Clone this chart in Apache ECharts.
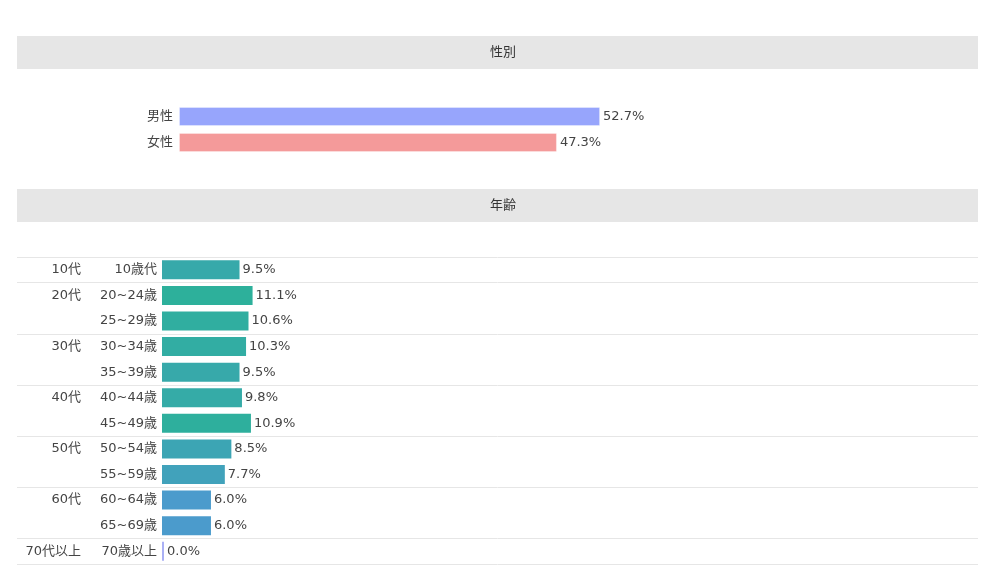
<!DOCTYPE html>
<html>
<head>
<meta charset="utf-8">
<script src="https://cdn.jsdelivr.net/npm/echarts@6/dist/echarts.min.js"></script>
<style>
  html, body { margin: 0; padding: 0; background: #fff; }
  #chart { width: 996px; height: 576px; }
</style>
</head>
<body>
<div id="chart"></div>
<script>
const genderNames = ['男性', '女性']
const genderValues = [52.7, 47.3]

const ageNames = ['10歳代', '20~24歳', '25~29歳', '30~34歳', '35~39歳', '40~44歳',
    '45~49歳', '50~54歳', '55~59歳', '60~64歳', '65~69歳', '70歳以上']
const ageGroups = ['10代', '20代', '', '30代', '', '40代', '', '50代', '', '60代', '', '70代以上']
const ageValues = [9.5, 11.1, 10.6, 10.3, 9.5, 9.8, 10.9, 8.5, 7.7, 6.0, 6.0, 0.0]

const genderColors = ['#97a5fc', '#f49a9a']
const font = "'DejaVu Sans', 'Noto Sans CJK JP', sans-serif"
const textColor = '#444'

// group starts (where a separator line is drawn)
const groupStarts = ageGroups.map((g, i) => g !== '' ? i : -1).filter(i => i >= 0)

const myChart = echarts.init(document.getElementById('chart'))

const option = {
    animation: false,
    textStyle: { fontFamily: font },
    title: [
        { text: '性別', left: 498, top: 41, textAlign: 'center',
          textStyle: { fontSize: 13, fontWeight: 'normal', color: '#333', fontFamily: font } },
        { text: '年齢', left: 498, top: 194, textAlign: 'center',
          textStyle: { fontSize: 13, fontWeight: 'normal', color: '#333', fontFamily: font } }
    ],
    graphic: [
        { type: 'rect', z: -1, shape: { x: 17, y: 36, width: 961, height: 33 }, style: { fill: '#e6e6e6' } },
        { type: 'rect', z: -1, shape: { x: 17, y: 189, width: 961, height: 33 }, style: { fill: '#e6e6e6' } }
    ],
    visualMap: {
        show: false,
        type: 'continuous',
        seriesIndex: 1,
        dimension: 0,
        min: 0,
        max: 11.1,
        inRange: { color: ['#aab0f5', '#4e99d0', '#2db09b'] }
    },
    grid: [
        { left: 179, right: 18, top: 103.5, height: 52, containLabel: false },
        { left: 162, right: 18, top: 257, height: 307, containLabel: false },
        { left: 17, right: 18, top: 257, height: 307, containLabel: false }
    ],
    xAxis: [
        { gridIndex: 0, type: 'value', min: 0, max: 100, show: false },
        { gridIndex: 1, type: 'value', min: 0, max: 100, show: false },
        { gridIndex: 2, type: 'value', min: 0, max: 100, show: false }
    ],
    yAxis: [
        {
            gridIndex: 0, type: 'category', data: genderNames, inverse: true,
            axisLine: { show: false }, axisTick: { show: false }, splitLine: { show: false },
            axisLabel: { margin: 6, fontSize: 13, color: textColor, fontFamily: font }
        },
        {
            gridIndex: 1, type: 'category', data: ageNames, inverse: true,
            axisLine: { show: false }, axisTick: { show: false }, splitLine: { show: false },
            axisLabel: { margin: 5, fontSize: 13, color: textColor, fontFamily: font }
        },
        {
            gridIndex: 1, type: 'category', data: ageGroups, inverse: true, position: 'left', offset: 76,
            axisLine: { show: false }, axisTick: { show: false }, splitLine: { show: false },
            axisLabel: { margin: 5, fontSize: 13, color: textColor, fontFamily: font, interval: 0 }
        },
        {
            gridIndex: 2, type: 'category', data: ageNames, inverse: true,
            axisLine: { show: false }, axisTick: { show: false }, axisLabel: { show: false },
            splitLine: {
                show: true,
                interval: (index) => groupStarts.indexOf(index) >= 0 || index >= ageNames.length,
                lineStyle: { color: '#e6e6e6', width: 1 }
            }
        }
    ],
    series: [
        {
            type: 'bar',
            xAxisIndex: 0,
            yAxisIndex: 0,
            data: genderValues,
            barWidth: 19,
            itemStyle: {
                color: (p) => genderColors[p.dataIndex],
                borderColor: 'rgba(255,255,255,0.3)',
                borderWidth: 1
            },
            label: {
                show: true, position: 'right', distance: 3,
                formatter: (p) => p.value.toFixed(1) + '%',
                fontSize: 13, color: textColor, fontFamily: font
            }
        },
        {
            type: 'bar',
            xAxisIndex: 1,
            yAxisIndex: 1,
            data: ageValues,
            barWidth: 19,
            barMinHeight: 2,
            label: {
                show: true, position: 'right', distance: 3,
                formatter: (p) => p.value.toFixed(1) + '%',
                fontSize: 13, color: textColor, fontFamily: font
            }
        }
    ]
}

myChart.setOption(option)
</script>
</body>
</html>
